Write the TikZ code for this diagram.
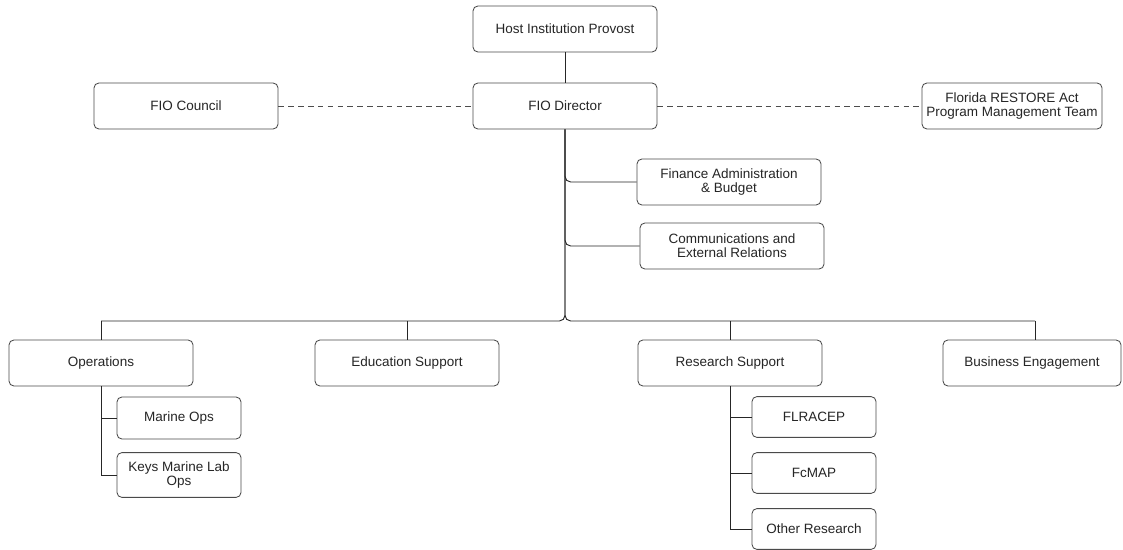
\documentclass[tikz,border=0pt]{standalone}
\usepackage{fontspec}
\setmainfont{Liberation Sans}
\usetikzlibrary{positioning}

\definecolor{boxgray}{HTML}{4A4A4A}
\definecolor{txtgray}{HTML}{262626}

\tikzset{
  box/.style = {draw=boxgray, line width=0.6pt, rounded corners=3.5pt, fill=white,
                minimum width=4.6cm, minimum height=1.15cm, align=center,
                text=txtgray, font=\fontsize{9.6}{10.2}\selectfont, inner sep=1pt},
  subbox/.style = {box, minimum width=3.1cm, minimum height=1.05cm},
  conn/.style = {draw=black!85, line width=0.65pt},
  dashline/.style = {draw=black!70, line width=0.6pt, dash pattern=on 4pt off 3pt},
}

\begin{document}
\begin{tikzpicture}[x=0.025cm, y=-0.025cm]
    \useasboundingbox (0, 0) rectangle (1123, 550);

    \node[box] (host) at (565, 29) {Host Institution Provost};
    \node[box] (dir) at (565, 106) {FIO Director};
    \node[box] (council) at (186, 106) {FIO Council};
    \node[box, minimum width=4.5cm] (restore) at (1012, 106) {Florida RESTORE Act\\Program Management Team};

    \node[box] (fin) at (729, 182) {Finance Administration\\\& Budget};
    \node[box] (comm) at (732, 246) {Communications and\\External Relations};

    \node[box] (ops) at (101, 363) {Operations};
    \node[box] (edu) at (407, 363) {Education Support};
    \node[box] (res) at (730, 363) {Research Support};
    \node[box, minimum width=4.45cm] (biz) at (1032, 363) {Business Engagement};

    \node[subbox] (marine) at (179, 418) {Marine Ops};
    \node[subbox, minimum height=1.12cm] (keys) at (179, 475) {Keys Marine Lab\\Ops};

    \node[subbox, minimum height=1.02cm] (flracep) at (814, 417) {FLRACEP};
    \node[subbox, minimum height=1.02cm] (fcmap) at (814, 473) {FcMAP};
    \node[subbox, minimum height=1.02cm] (other) at (814, 529) {Other Research};

    \coordinate (busL) at (101, 321);
    \coordinate (busR) at (1035, 321);

    \draw [conn] (host) -- (dir);
    \draw [dashline] (council) -- (dir);
    \draw [dashline] (dir) -- (restore);

    \draw [conn, rounded corners=4pt] (dir.south) |- (fin.west);
    \draw [conn, rounded corners=4pt] (dir.south) |- (comm.west);
    \draw [conn, rounded corners=4pt] (dir.south) |- (busL);
    \draw [conn, rounded corners=4pt] (dir.south) |- (busR);

    \draw [conn] (busL) -- (ops.north);
    \draw [conn] (busR) -- (busR |- biz.north);
    \foreach \n in {edu, res}
      \draw [conn] (\n.north) -- (\n.north |- busL);

    \foreach \n in {marine, keys}
      \draw [conn] (ops.south) |- (\n.west);
    \foreach \n in {flracep, fcmap, other}
      \draw [conn] (res.south) |- (\n.west);
\end{tikzpicture}
\end{document}
